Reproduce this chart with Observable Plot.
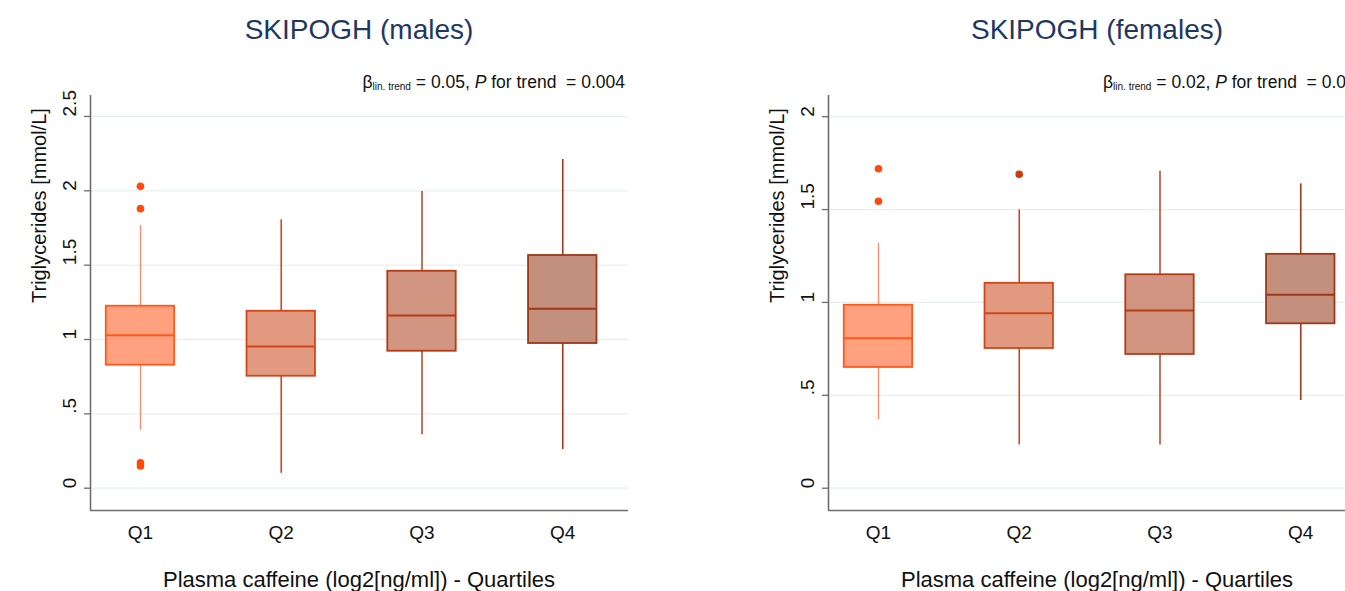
<!DOCTYPE html>
<html>
<head>
<meta charset="utf-8">
<script src="https://cdn.jsdelivr.net/npm/d3@7"></script>
<script src="https://cdn.jsdelivr.net/npm/@observablehq/plot@0.6"></script>
<style>
  html, body { margin: 0; padding: 0; background: #fff; }
  #wrap { position: relative; width: 1345px; height: 591px; overflow: hidden; font-family: "Liberation Sans", Arial, sans-serif; }
  .panel { position: absolute; top: 60px; }
  .title { position: absolute; top: 14px; width: 538px; text-align: center; font-size: 28px; color: #1f3762; }
  .annot { position: absolute; top: 72px; font-size: 17.5px; color: #111; white-space: pre; }
  .annot sub { font-size: 10px; vertical-align: -2px; }
  .xtitle { position: absolute; top: 567px; width: 538px; text-align: center; font-size: 22px; color: #111; }
</style>
</head>
<body>
<div id="wrap"></div>
<script>
// ---- data ----
const quartiles = ["Q1", "Q2", "Q3", "Q4"];

const malesLow    = [0.39, 0.10, 0.36, 0.26];
const malesQ1     = [0.827, 0.753, 0.921, 0.973];
const malesMedian = [1.029, 0.953, 1.161, 1.206];
const malesQ3     = [1.224, 1.190, 1.459, 1.565];
const malesHigh   = [1.767, 1.805, 1.995, 2.21];
const malesOutQ   = ["Q1", "Q1", "Q1", "Q1"];
const malesOutV   = [2.03, 1.88, 0.17, 0.15];
const malesTicks  = [0, 0.5, 1, 1.5, 2, 2.5];

const femalesLow    = [0.37, 0.233, 0.233, 0.472];
const femalesQ1     = [0.65, 0.752, 0.72, 0.885];
const femalesMedian = [0.807, 0.942, 0.956, 1.042];
const femalesQ3     = [0.985, 1.103, 1.149, 1.259];
const femalesHigh   = [1.319, 1.498, 1.706, 1.638];
const femalesOutQ   = ["Q1", "Q1", "Q2"];
const femalesOutV   = [1.72, 1.545, 1.69];
const femalesTicks  = [0, 0.5, 1, 1.5, 2];

// ---- styles ----
const fills    = ["#ffa07e", "#e19a80", "#d29581", "#c4907e"];
const strokes  = ["#ff5a1e", "#d2461a", "#b43c14", "#9e3818"];
const whiskerC = ["#ff8b6a", "#d2461a", "#b9502f", "#a03a1c"];
const outC     = {Q1: "#ff4a0a", Q2: "#cc3a10", Q3: "#b43c14", Q4: "#9e3818"};
const FONT = "Liberation Sans, Arial, sans-serif";

function panel(s) {
  const idx = quartiles.map((q, i) => i);
  const pos = i => i + 1;
  const hw = 0.243;
  const fmt = d => d === 0.5 ? ".5" : String(d);
  const marks = [
    Plot.ruleY(s.ticks, {y: d => d, stroke: "#e6efef", strokeWidth: 1.3}),
    Plot.ruleX([s.xDomain[0]], {stroke: "#6e6e6e", strokeWidth: 1.6}),
    Plot.ruleY([s.yDomain[0]], {stroke: "#6e6e6e", strokeWidth: 1.6}),
    Plot.axisY({ticks: s.ticks, tickSize: 6, tickFormat: () => "", label: null, stroke: "#6e6e6e", strokeWidth: 1.3}),
    Plot.text(s.ticks, {y: d => d, text: fmt, frameAnchor: "left", rotate: -90, dx: -21, lineAnchor: "middle", fontSize: 19, fill: "#111"}),
    Plot.text(["Triglycerides [mmol/L]"], {frameAnchor: "left", rotate: -90, dx: -51, lineAnchor: "middle", fontSize: 20, fill: "#111"}),
    Plot.text(quartiles, {x: (d, i) => pos(i), text: d => d, frameAnchor: "bottom", lineAnchor: "middle", dy: 22, fontSize: 19, fill: "#111"})
  ];
  idx.forEach(i => {
    marks.push(
      Plot.ruleX([i], {x: pos, y1: () => s.low[i], y2: () => s.high[i], stroke: whiskerC[i], strokeWidth: i === 0 ? 1.3 : 1.6}),
      Plot.rectY([i], {x1: d => pos(d) - hw, x2: d => pos(d) + hw, y1: () => s.q1[i], y2: () => s.q3[i], fill: fills[i], stroke: strokes[i], strokeWidth: 1.8}),
      Plot.ruleY([i], {x1: d => pos(d) - hw, x2: d => pos(d) + hw, y: () => s.median[i], stroke: strokes[i], strokeWidth: 2})
    );
  });
  const outs = s.outQ.map((q, k) => ({q, v: s.outV[k]}));
  marks.push(Plot.dot(outs, {x: d => quartiles.indexOf(d.q) + 1, y: "v", r: 3.8, fill: d => outC[d.q], stroke: "none"}));
  return Plot.plot({
    width: 700, height: 531,
    marginLeft: 90, marginRight: 72, marginTop: 35, marginBottom: 81,
    style: {fontFamily: FONT, background: "transparent", overflow: "visible"},
    x: {type: "linear", domain: s.xDomain, axis: null},
    y: {domain: s.yDomain, axis: null, label: null},
    color: {type: "identity"},
    marks
  });
}

const wrap = document.getElementById("wrap");
const xDomain = [0.645, 4.467];

const left = panel({ticks: malesTicks, yDomain: [-0.15, 2.641], xDomain,
  low: malesLow, q1: malesQ1, median: malesMedian, q3: malesQ3, high: malesHigh, outQ: malesOutQ, outV: malesOutV});
left.classList.add("panel"); left.style.left = "0px";
wrap.appendChild(left);

const right = panel({ticks: femalesTicks, yDomain: [-0.12, 2.114], xDomain,
  low: femalesLow, q1: femalesQ1, median: femalesMedian, q3: femalesQ3, high: femalesHigh, outQ: femalesOutQ, outV: femalesOutV});
right.classList.add("panel"); right.style.left = "738px";
wrap.appendChild(right);

function addDiv(cls, html, leftPx, extra) {
  const d = document.createElement("div");
  d.className = cls; d.innerHTML = html; d.style.left = leftPx + "px";
  if (extra) Object.assign(d.style, extra);
  wrap.appendChild(d);
}
addDiv("title", "SKIPOGH (males)", 90);
addDiv("title", "SKIPOGH (females)", 828);
addDiv("annot", "β<sub>lin. trend</sub> = 0.05, <i>P</i> for trend  = 0.004", 0, {left: "auto", right: (1345 - 625) + "px"});
addDiv("annot", "β<sub>lin. trend</sub> = 0.02, <i>P</i> for trend  = 0.0", 1103);
addDiv("xtitle", "Plasma caffeine (log2[ng/ml]) - Quartiles", 90);
addDiv("xtitle", "Plasma caffeine (log2[ng/ml]) - Quartiles", 828);
</script>
</body>
</html>
